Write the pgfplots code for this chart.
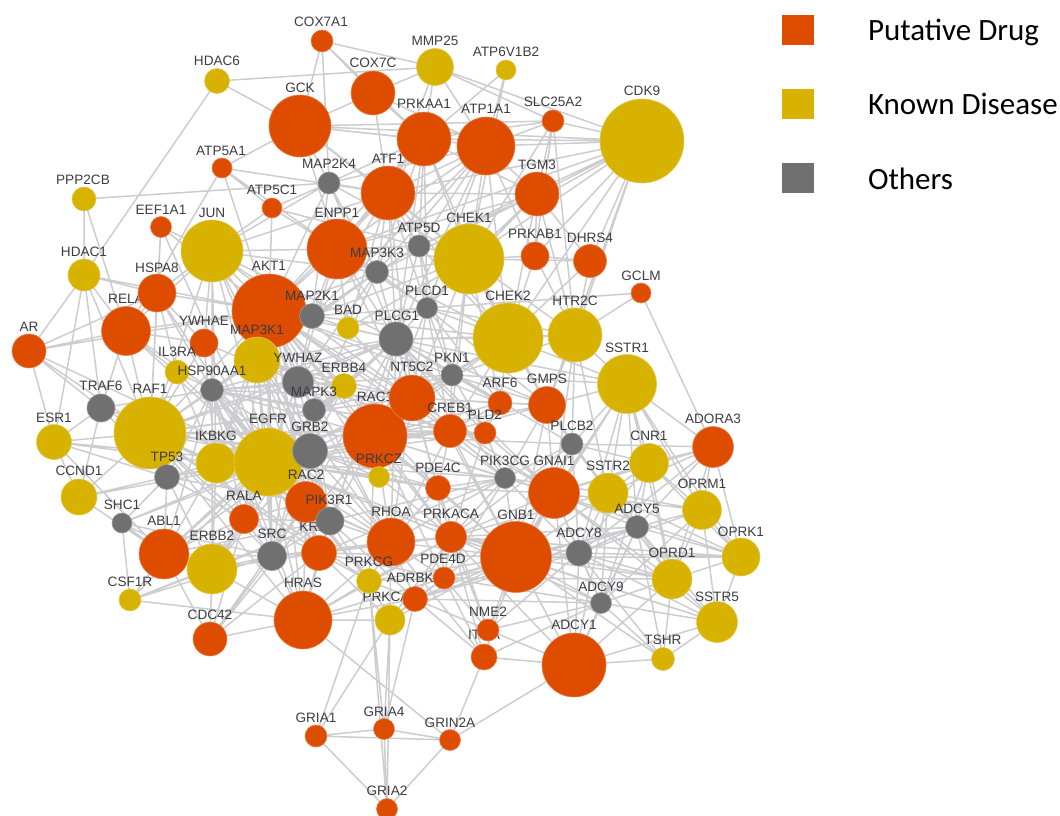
\documentclass[border=0pt]{standalone}
\usepackage{pgfplots}
\pgfplotsset{compat=1.18}
\usepackage{fontspec}
\setmainfont{Liberation Sans}
\newfontfamily\legfont{Carlito}
\definecolor{colO}{RGB}{222,76,0}
\definecolor{colY}{RGB}{216,178,0}
\definecolor{colG}{RGB}{112,112,112}
\definecolor{colE}{RGB}{205,205,208}
\definecolor{colT}{RGB}{60,60,66}
\pgfplotstableread{
x y r
322 41 11
373 93 22
300 126 31
222 168 10
388 193 27
272 208 10
161 227 10.5
337 249 30
157 293 19
269 311 37
553 121 11
424 139 27
486 146 29
537 194 22
535 256 14
590 261 16.5
641 293 10
126 331 24.5
29 351 17
204 343 14
375 436 32
412 398 23
500 403 12
547 405 18.5
450 431 16.5
485 433 11
713 447 20.5
438 488 12.5
554 493 25.5
451 537 15.5
516 557 35.5
574 665 32
484 657 13
488 630 11
444 578 11
415 599 12.5
303 620 29
210 639 17
164 554 25
319 553 17.5
391 542 24
244 519 14.5
316 736 11
384 729 10.5
450 740 10.5
387 809 10.5
}\tabO
\pgfplotstableread{
x y r
217 81 12.5
435 67 18.5
506 70 10
84 199 12
642 141 42
212 251 31
469 259 35
84 275 16
348 328 11
257 360 23
177 372 12
344 386 12.5
150 433 36
54 442 17.5
508 338 35
575 335 27
627 384 29.5
649 463 19.5
608 493 20
702 510 19.5
741 557 19
672 579 20
717 622 20.5
663 659 11.5
369 581 12.5
390 620 15
130 600 11
212 569 25
79 497 18
216 463 20
268 462 34
379 477 10.5
}\tabY
\pgfplotstableread{
x y r
329 183 11
377 272 11.5
419 246 11
312 316 12.5
396 339 17
212 390 11.5
298 382 15.5
101 408 14
314 410 11.5
427 308 10.5
452 375 11
572 444 11
505 478 10.5
637 527 11.5
579 553 13
601 603 10.5
272 556 14.5
330 521 14
122 523 10
167 477 12.5
310 451 17.5
}\tabG
\pgfplotstableread{
x y r
306 502 20.5
}\tabR
\pgfplotstableread{
x y l
126 299 RELA
375 397 RAC1
318 527 KRAS
386 597 PRKCA
414 578 ADRBK1
484 635 ITGA
}\tabHidden
\pgfplotstableread{
x y l
321 22 COX7A1
217 61 HDAC6
373 63 COX7C
300 88 GCK
221 151 ATP5A1
329 164 MAP2K4
388 159 ATF1
272 190 ATP5C1
83 180 PPP2CB
161 210 EEF1A1
212 213 JUN
337 213 ENPP1
377 253 MAP3K3
84 252 HDAC1
157 268 HSPA8
269 266 AKT1
435 41 MMP25
506 52 ATP6V1B2
553 102 SLC25A2
642 91 CDK9
424 104 PRKAA1
486 109 ATP1A1
537 165 TGM3
419 228 ATP5D
469 218 CHEK1
535 234 PRKAB1
590 238 DHRS4
641 276 GCLM
312 296 MAP2K1
348 310 BAD
397 316 PLCG1
29 327 AR
204 321 YWHAE
257 330 MAP3K1
177 352 IL3RA
212 371 HSP90AA1
298 358 YWHAZ
344 368 ERBB4
101 386 TRAF6
150 389 RAF1
314 392 MAPK3
54 418 ESR1
268 419 EGFR
310 427 GRB2
216 436 IKBKG
167 457 TP53
79 471 CCND1
306 475 RAC2
379 459 PRKCZ
329 500 PIK3R1
244 496 RALA
122 505 SHC1
164 521 ABL1
212 536 ERBB2
272 534 SRC
391 512 RHOA
427 291 PLCD1
508 296 CHEK2
575 301 HTR2C
412 367 NT5C2
452 358 PKN1
627 348 SSTR1
500 383 ARF6
547 379 GMPS
450 408 CREB1
485 415 PLD2
572 426 PLCB2
713 419 ADORA3
649 436 CNR1
438 468 PDE4C
505 461 PIK3CG
554 461 GNAI1
608 466 SSTR2
702 484 OPRM1
637 509 ADCY5
451 514 PRKACA
516 515 GNB1
579 533 ADCY8
741 532 OPRK1
672 553 OPRD1
717 597 SSTR5
601 587 ADCY9
663 640 TSHR
574 625 ADCY1
488 612 NME2
443 559 PDE4D
369 562 PRKCG
303 583 HRAS
210 615 CDC42
130 582 CSF1R
316 718 GRIA1
384 712 GRIA4
450 723 GRIN2A
387 791 GRIA2
}\tabL
\begin{document}
\begin{tikzpicture}
\useasboundingbox (0,0) rectangle (1060pt,816pt);
\begin{axis}[
  at={(0pt,0pt)}, anchor=south west,
  scale only axis, width=1060pt, height=816pt,
  xmin=0, xmax=1060, ymin=0, ymax=816, y dir=reverse,
  hide axis, clip mode=individual,
  legend image code/.code={\path[#1,draw=none] (0pt,-14pt) rectangle (32pt,16pt); \path[draw=none,fill=none] (32pt,0pt) -- (86pt,0pt);},
  legend style={at={(axis cs:782,15)}, anchor=north west, draw=none, fill=none,
    inner sep=0pt, outer sep=0pt, row sep=44pt,
    font=\legfont\fontsize{31}{33}\selectfont,
    nodes={inner sep=0pt, text=black}},
  legend cell align=left,
]
\addplot[color=colE, line width=1.5pt, unbounded coords=jump, forget plot] coordinates {
(387,809)(316,736)(384,729)(387,809)(450,740)(384,729)(nan,nan)
(316,736)(450,740)(303,620)(nan,nan)
(316,736)(390,620)(384,729)(369,581)(316,736)(nan,nan)
(390,620)(387,809)(369,581)(nan,nan)
(384,729)(415,599)(nan,nan)(484,657)(450,740)(574,665)(nan,nan)
(84,275)(217,81)(435,67)(322,41)(300,126)(217,81)(nan,nan)
(322,41)(373,93)(300,126)(nan,nan)(322,41)(329,183)(nan,nan)(322,41)(424,139)(nan,nan)
(435,67)(373,93)(nan,nan)(435,67)(424,139)(506,70)(486,146)(435,67)(642,141)(nan,nan)
(435,67)(553,121)(424,139)(nan,nan)(435,67)(388,193)(nan,nan)(506,70)(469,259)(nan,nan)
(84,199)(329,183)(nan,nan)(84,199)(84,275)(nan,nan)(84,199)(126,331)(nan,nan)
(222,168)(300,126)(nan,nan)(222,168)(272,208)(337,249)(222,168)(269,311)(nan,nan)(222,168)(126,331)(nan,nan)(222,168)(388,193)(nan,nan)
(272,208)(329,183)(nan,nan)(272,208)(269,311)(nan,nan)(272,208)(212,251)(388,193)(nan,nan)(272,208)(469,259)(nan,nan)
(161,227)(157,293)(nan,nan)(161,227)(212,251)(nan,nan)(161,227)(269,311)(nan,nan)(161,227)(150,433)(nan,nan)(161,227)(268,462)(nan,nan)
(84,275)(126,331)(29,351)(84,275)(157,293)(126,331)(nan,nan)(84,275)(54,442)(29,351)(101,408)(84,275)(nan,nan)
(84,275)(269,311)(29,351)(157,293)(nan,nan)(84,275)(150,433)(nan,nan)(29,351)(150,433)(54,442)(101,408)(nan,nan)
(29,351)(268,462)(54,442)(167,477)(79,497)(54,442)(216,463)(nan,nan)(54,442)(79,497)(nan,nan)(54,442)(164,554)(nan,nan)
(79,497)(150,433)(nan,nan)(79,497)(268,462)(nan,nan)(79,497)(164,554)(nan,nan)(79,497)(101,408)(nan,nan)
(122,523)(130,600)(164,554)(122,523)(212,569)(130,600)(nan,nan)(122,523)(167,477)(nan,nan)(122,523)(268,462)(310,451)(122,523)(272,556)(nan,nan)
(130,600)(272,556)(nan,nan)(130,600)(268,462)(nan,nan)(130,600)(303,620)(nan,nan)(130,600)(212,569)(nan,nan)(130,600)(330,521)(nan,nan)
(210,639)(212,569)(nan,nan)(210,639)(164,554)(nan,nan)(210,639)(272,556)(210,639)(244,519)(nan,nan)(210,639)(303,620)(nan,nan)(210,639)(319,553)(nan,nan)(210,639)(375,436)(nan,nan)(210,639)(306,502)(nan,nan)
(303,620)(390,620)(nan,nan)(303,620)(212,569)(nan,nan)(303,620)(272,556)(nan,nan)(303,620)(369,581)(nan,nan)(303,620)(415,599)(nan,nan)(303,620)(444,578)(nan,nan)
(641,293)(575,335)(nan,nan)(641,293)(713,447)(nan,nan)(641,293)(427,308)(nan,nan)
(642,141)(424,139)(nan,nan)(642,141)(486,146)(nan,nan)(642,141)(537,194)(nan,nan)(642,141)(537,200)(nan,nan)(642,141)(469,259)(nan,nan)(642,141)(388,193)(nan,nan)(642,141)(337,249)(nan,nan)
(642,141)(535,256)(nan,nan)(642,141)(590,261)(nan,nan)(642,141)(508,338)(nan,nan)(642,141)(575,335)(nan,nan)(642,141)(547,405)(nan,nan)(642,141)(553,121)(nan,nan)(642,141)(300,126)(nan,nan)(642,141)(419,246)(nan,nan)
(553,121)(486,146)(nan,nan)(553,121)(537,194)(nan,nan)(553,121)(469,259)(nan,nan)(553,121)(535,256)(nan,nan)(553,121)(575,335)(nan,nan)(553,121)(300,126)(nan,nan)
(713,447)(627,384)(nan,nan)(713,447)(649,463)(nan,nan)(713,447)(572,444)(nan,nan)(713,447)(608,493)(nan,nan)(713,447)(702,510)(nan,nan)(713,447)(741,557)(nan,nan)(713,447)(672,579)(nan,nan)(713,447)(637,527)(nan,nan)(713,447)(579,553)(nan,nan)(713,447)(554,493)(nan,nan)
(741,557)(702,510)(672,579)(741,557)(717,622)(702,510)(nan,nan)(741,557)(637,527)(nan,nan)(741,557)(579,553)(nan,nan)(741,557)(649,463)(nan,nan)(741,557)(608,493)(nan,nan)(741,557)(554,493)(nan,nan)
(663,659)(717,622)(nan,nan)(663,659)(574,665)(nan,nan)(663,659)(601,603)(nan,nan)(663,659)(637,527)(nan,nan)(663,659)(672,579)(nan,nan)(663,659)(579,553)(nan,nan)(663,659)(516,557)(nan,nan)
(717,622)(672,579)(nan,nan)(717,622)(601,603)(nan,nan)(717,622)(574,665)(nan,nan)(717,622)(637,527)(nan,nan)(717,622)(554,493)(nan,nan)(717,622)(516,557)(nan,nan)(717,622)(579,553)(nan,nan)(717,622)(608,493)(nan,nan)
(574,665)(601,603)(nan,nan)(574,665)(579,553)(nan,nan)(574,665)(637,527)(nan,nan)(574,665)(516,557)(nan,nan)(574,665)(484,657)(nan,nan)(574,665)(488,630)(nan,nan)(574,665)(554,493)(nan,nan)(574,665)(672,579)(nan,nan)(574,665)(608,493)(nan,nan)(574,665)(451,537)(nan,nan)
(627,384)(649,463)(nan,nan)(627,384)(608,493)(nan,nan)(627,384)(554,493)(nan,nan)(627,384)(572,444)(nan,nan)(627,384)(702,510)(nan,nan)(627,384)(637,527)(nan,nan)(627,384)(672,579)(nan,nan)(627,384)(741,557)(nan,nan)(627,384)(547,405)(nan,nan)(627,384)(575,335)(nan,nan)(627,384)(516,557)(nan,nan)(627,384)(579,553)(nan,nan)
(649,463)(608,493)(nan,nan)(649,463)(572,444)(nan,nan)(649,463)(702,510)(nan,nan)(649,463)(637,527)(nan,nan)(649,463)(554,493)(nan,nan)(649,463)(672,579)(nan,nan)(649,463)(579,553)(nan,nan)(649,463)(601,603)(nan,nan)
(702,510)(608,493)(nan,nan)(702,510)(637,527)(nan,nan)(702,510)(672,579)(nan,nan)(702,510)(554,493)(nan,nan)(702,510)(579,553)(nan,nan)(702,510)(601,603)(nan,nan)
(672,579)(608,493)(637,527)(672,579)(601,603)(608,493)(579,553)(672,579)(554,493)(nan,nan)(672,579)(516,557)(nan,nan)
(516,557)(554,493)(579,553)(516,557)(601,603)(554,493)(637,527)(516,557)(608,493)(451,537)(516,557)(444,578)(554,493)(451,537)(444,578)(488,630)(516,557)(484,657)(nan,nan)
(516,557)(505,478)(554,493)(572,444)(516,557)(547,405)(554,493)(438,488)(516,557)(415,599)(451,537)(505,478)(438,488)(444,578)(nan,nan)
(516,557)(391,542)(nan,nan)(516,557)(369,581)(nan,nan)(516,557)(390,620)(nan,nan)(516,557)(303,620)(nan,nan)(516,557)(319,553)(nan,nan)(516,557)(375,436)(nan,nan)(516,557)(450,431)(nan,nan)
(469,259)(486,146)(424,139)(537,194)(486,146)(388,193)(424,139)(373,93)(486,146)(300,126)(424,139)(nan,nan)
(373,93)(388,193)(300,126)(337,249)(388,193)(329,183)(300,126)(469,259)(388,193)(537,194)(469,259)(424,139)(337,249)(486,146)(329,183)(424,139)(nan,nan)
(419,246)(469,259)(377,272)(419,246)(388,193)(377,272)(337,249)(419,246)(486,146)(377,272)(424,139)(419,246)(537,194)(377,272)(469,259)(329,183)(377,272)(nan,nan)
(535,256)(469,259)(590,261)(535,256)(537,194)(590,261)(nan,nan)(535,256)(508,338)(nan,nan)(535,256)(575,335)(590,261)(508,338)(537,194)(575,335)(nan,nan)(535,256)(486,146)(nan,nan)(590,261)(469,259)(nan,nan)
(469,259)(508,338)(427,308)(469,259)(396,339)(508,338)(419,246)(427,308)(377,272)(396,339)(419,246)(nan,nan)(508,338)(575,335)(627,384)(508,338)(547,405)(nan,nan)
(388,193)(427,308)(337,249)(396,339)(388,193)(312,316)(329,183)(396,339)(486,146)(427,308)(424,139)(396,339)(nan,nan)(486,146)(508,338)(nan,nan)(424,139)(508,338)(nan,nan)
(337,249)(269,311)(377,272)(312,316)(337,249)(212,251)(269,311)(329,183)(212,251)(nan,nan)(212,251)(157,293)(269,311)(126,331)(212,251)(204,343)(nan,nan)(212,251)(150,433)(nan,nan)(212,251)(268,462)(nan,nan)(212,251)(312,316)(nan,nan)
(157,293)(204,343)(126,331)(150,433)(157,293)(177,372)(126,331)(212,390)(157,293)(268,462)(126,331)(268,462)(204,343)(150,433)(269,311)(268,462)(212,390)(nan,nan)
(101,408)(150,433)(nan,nan)(101,408)(126,331)(nan,nan)(101,408)(212,390)(nan,nan)(101,408)(268,462)(nan,nan)(101,408)(167,477)(nan,nan)
(150,433)(212,390)(177,372)(268,462)(257,360)(150,433)(298,382)(204,343)(268,462)(298,382)(212,390)(257,360)(310,451)(150,433)(314,410)(212,390)(310,451)(nan,nan)
(269,311)(298,382)(312,316)(257,360)(344,386)(269,311)(314,410)(298,382)(344,386)(310,451)(269,311)(375,436)(257,360)(nan,nan)(269,311)(412,398)(nan,nan)(269,311)(396,339)(348,328)(312,316)(nan,nan)
(150,433)(216,463)(167,477)(150,433)(244,519)(216,463)(268,462)(167,477)(310,451)(216,463)(306,502)(167,477)(244,519)(268,462)(330,521)(216,463)(nan,nan)
(164,554)(167,477)(212,569)(216,463)(164,554)(268,462)(212,569)(310,451)(164,554)(244,519)(212,569)(272,556)(268,462)(319,553)(212,569)(330,521)(164,554)(272,556)(310,451)(nan,nan)
(272,556)(244,519)(319,553)(272,556)(330,521)(244,519)(306,502)(272,556)(391,542)(319,553)(330,521)(391,542)(306,502)(319,553)(303,620)(330,521)(nan,nan)
(391,542)(303,620)(306,502)(369,581)(391,542)(390,620)(319,553)(369,581)(330,521)(415,599)(391,542)(444,578)(369,581)(451,537)(391,542)(438,488)(nan,nan)
(369,581)(390,620)(415,599)(369,581)(444,578)(390,620)(451,537)(415,599)(444,578)(nan,nan)(319,553)(444,578)(nan,nan)(319,553)(451,537)(nan,nan)(303,620)(451,537)(nan,nan)
(310,451)(375,436)(268,462)(412,398)(310,451)(379,477)(375,436)(330,521)(310,451)(391,542)(375,436)(450,431)(310,451)(438,488)(375,436)(451,537)(379,477)(412,398)(nan,nan)
(375,436)(485,433)(nan,nan)(375,436)(500,403)(nan,nan)(375,436)(505,478)(nan,nan)(375,436)(547,405)(nan,nan)(375,436)(554,493)(nan,nan)(375,436)(572,444)(nan,nan)(375,436)(369,581)(nan,nan)(375,436)(444,578)(nan,nan)
(412,398)(450,431)(438,488)(375,436)(452,375)(412,398)(505,478)(450,431)(547,405)(412,398)(554,493)(450,431)(500,403)(412,398)(391,542)(450,431)(nan,nan)
(452,375)(396,339)(412,398)(427,308)(452,375)(508,338)(412,398)(396,339)(344,386)(412,398)(348,328)(396,339)(314,410)(452,375)(500,403)(396,339)(375,436)(nan,nan)
(452,375)(450,431)(nan,nan)(452,375)(485,433)(nan,nan)(452,375)(547,405)(nan,nan)(452,375)(627,384)(nan,nan)(396,339)(485,433)(nan,nan)(396,339)(547,405)(nan,nan)(396,339)(554,493)(nan,nan)
(344,386)(310,451)(nan,nan)(344,386)(314,410)(nan,nan)(344,386)(268,462)(nan,nan)(344,386)(164,554)(nan,nan)(344,386)(212,569)(nan,nan)(298,382)(391,542)(nan,nan)(298,382)(396,339)(nan,nan)(314,410)(306,502)(nan,nan)(314,410)(330,521)(nan,nan)(314,410)(272,556)(nan,nan)
(212,390)(268,462)(nan,nan)(212,390)(412,398)(nan,nan)(212,390)(375,436)(nan,nan)(212,390)(396,339)(nan,nan)(212,390)(452,375)(nan,nan)(212,390)(450,431)(nan,nan)(257,360)(375,436)(nan,nan)(257,360)(396,339)(nan,nan)(257,360)(330,521)(nan,nan)(257,360)(216,463)(nan,nan)(204,343)(298,382)(nan,nan)(204,343)(216,463)(nan,nan)(177,372)(150,433)(nan,nan)(177,372)(216,463)(nan,nan)
(500,403)(547,405)(nan,nan)(500,403)(508,338)(nan,nan)(500,403)(485,433)(450,431)(nan,nan)(485,433)(505,478)(nan,nan)(485,433)(554,493)(nan,nan)(485,433)(451,537)(nan,nan)(547,405)(572,444)(nan,nan)(547,405)(608,493)(nan,nan)(547,405)(505,478)(nan,nan)(572,444)(505,478)(nan,nan)(572,444)(608,493)(nan,nan)(572,444)(451,537)(nan,nan)(572,444)(579,553)(nan,nan)(572,444)(637,527)(nan,nan)
(505,478)(438,488)(nan,nan)(505,478)(579,553)(nan,nan)(505,478)(608,493)(nan,nan)(505,478)(391,542)(nan,nan)(505,478)(319,553)(nan,nan)(505,478)(444,578)(nan,nan)(505,478)(375,436)(nan,nan)(505,478)(330,521)(nan,nan)
(575,335)(547,405)(nan,nan)(575,335)(554,493)(nan,nan)(575,335)(572,444)(nan,nan)(575,335)(608,493)(nan,nan)(575,335)(427,308)(nan,nan)(575,335)(452,375)(nan,nan)(575,335)(396,339)(nan,nan)(575,335)(537,194)(nan,nan)
(508,338)(412,398)(nan,nan)(508,338)(450,431)(nan,nan)(508,338)(500,403)(nan,nan)(508,338)(572,444)(nan,nan)(508,338)(396,339)(nan,nan)(508,338)(452,375)(nan,nan)(508,338)(375,436)(nan,nan)(508,338)(312,316)(nan,nan)
(488,630)(444,578)(nan,nan)(488,630)(451,537)(nan,nan)(488,630)(415,599)(nan,nan)(488,630)(554,493)(nan,nan)(488,630)(438,488)(nan,nan)(484,657)(444,578)(nan,nan)(484,657)(415,599)(nan,nan)(484,657)(451,537)(nan,nan)(484,657)(391,542)(nan,nan)(484,657)(516,557)(nan,nan)
(212,251)(396,339)(nan,nan)(212,251)(412,398)(nan,nan)(212,251)(298,382)(nan,nan)(212,251)(212,390)(nan,nan)(212,251)(257,360)(nan,nan)(212,251)(310,451)(nan,nan)(212,251)(216,463)(nan,nan)(212,251)(337,249)(nan,nan)
(150,433)(375,436)(nan,nan)(150,433)(412,398)(nan,nan)(150,433)(396,339)(nan,nan)(150,433)(450,431)(nan,nan)(150,433)(391,542)(nan,nan)(150,433)(319,553)(nan,nan)(150,433)(303,620)(nan,nan)(150,433)(369,581)(nan,nan)(150,433)(505,478)(nan,nan)(150,433)(272,556)(nan,nan)(150,433)(306,502)(nan,nan)(150,433)(330,521)(nan,nan)(150,433)(438,488)(nan,nan)
(268,462)(450,431)(nan,nan)(268,462)(438,488)(nan,nan)(268,462)(391,542)(nan,nan)(268,462)(451,537)(nan,nan)(268,462)(505,478)(nan,nan)(268,462)(303,620)(nan,nan)(268,462)(369,581)(nan,nan)(268,462)(516,557)(nan,nan)(268,462)(396,339)(nan,nan)(268,462)(452,375)(nan,nan)(268,462)(485,433)(nan,nan)(268,462)(379,477)(nan,nan)(268,462)(272,556)(nan,nan)
(269,311)(450,431)(nan,nan)(269,311)(438,488)(nan,nan)(269,311)(391,542)(nan,nan)(269,311)(319,553)(nan,nan)(269,311)(451,537)(nan,nan)(269,311)(505,478)(nan,nan)(269,311)(452,375)(nan,nan)(269,311)(500,403)(nan,nan)(269,311)(272,556)(nan,nan)(269,311)(330,521)(nan,nan)(269,311)(306,502)(nan,nan)(269,311)(216,463)(nan,nan)(269,311)(303,620)(nan,nan)(269,311)(379,477)(nan,nan)
(212,390)(306,502)(nan,nan)(212,390)(330,521)(nan,nan)(212,390)(272,556)(nan,nan)(212,390)(319,553)(nan,nan)(212,390)(244,519)(nan,nan)(212,390)(391,542)(nan,nan)(212,390)(303,620)(nan,nan)(212,390)(167,477)(nan,nan)(212,390)(164,554)(nan,nan)(212,390)(212,569)(nan,nan)
(257,360)(268,462)(nan,nan)(257,360)(412,398)(nan,nan)(257,360)(450,431)(nan,nan)(257,360)(391,542)(nan,nan)(257,360)(319,553)(nan,nan)(257,360)(272,556)(nan,nan)(257,360)(244,519)(nan,nan)(298,382)(244,519)(nan,nan)(298,382)(330,521)(nan,nan)(298,382)(272,556)(nan,nan)(298,382)(450,431)(nan,nan)(298,382)(438,488)(nan,nan)
(396,339)(451,537)(nan,nan)(396,339)(438,488)(nan,nan)(396,339)(391,542)(nan,nan)(396,339)(505,478)(nan,nan)(396,339)(330,521)(nan,nan)(396,339)(319,553)(nan,nan)(396,339)(306,502)(nan,nan)(396,339)(516,557)(nan,nan)(396,339)(572,444)(nan,nan)(396,339)(500,403)(nan,nan)(396,339)(627,384)(nan,nan)
(427,308)(412,398)(nan,nan)(427,308)(375,436)(nan,nan)(427,308)(450,431)(nan,nan)(427,308)(547,405)(nan,nan)(427,308)(500,403)(nan,nan)(427,308)(537,194)(nan,nan)(427,308)(312,316)(nan,nan)(427,308)(348,328)(nan,nan)(377,272)(412,398)(nan,nan)(377,272)(298,382)(nan,nan)(377,272)(314,410)(nan,nan)(377,272)(257,360)(nan,nan)(377,272)(212,390)(nan,nan)(377,272)(212,251)(nan,nan)(377,272)(150,433)(nan,nan)
(337,249)(396,339)(nan,nan)(337,249)(298,382)(nan,nan)(337,249)(348,328)(nan,nan)(337,249)(412,398)(nan,nan)(337,249)(469,259)(nan,nan)(337,249)(427,308)(nan,nan)(337,249)(508,338)(nan,nan)(337,249)(537,194)(nan,nan)(388,193)(269,311)(nan,nan)(388,193)(508,338)(nan,nan)(388,193)(348,328)(nan,nan)(388,193)(412,398)(nan,nan)(424,139)(427,308)(nan,nan)(424,139)(377,272)(nan,nan)(424,139)(269,311)(nan,nan)
(486,146)(312,316)(nan,nan)(486,146)(396,339)(nan,nan)(469,259)(412,398)(nan,nan)(469,259)(452,375)(nan,nan)(469,259)(450,431)(nan,nan)(469,259)(312,316)(nan,nan)(469,259)(348,328)(nan,nan)(469,259)(547,405)(nan,nan)(469,259)(500,403)(nan,nan)(469,259)(575,335)(nan,nan)(469,259)(537,194)(nan,nan)(419,246)(396,339)(nan,nan)(419,246)(508,338)(nan,nan)(419,246)(452,375)(nan,nan)
(579,553)(451,537)(nan,nan)(579,553)(444,578)(nan,nan)(579,553)(637,527)(nan,nan)(579,553)(601,603)(nan,nan)(637,527)(451,537)(nan,nan)(637,527)(601,603)(nan,nan)(637,527)(554,493)(nan,nan)(637,527)(608,493)(nan,nan)(601,603)(451,537)(nan,nan)(601,603)(444,578)(nan,nan)(601,603)(415,599)(nan,nan)(601,603)(488,630)(nan,nan)(601,603)(484,657)(nan,nan)(579,553)(415,599)(nan,nan)(579,553)(488,630)(nan,nan)(637,527)(444,578)(nan,nan)(637,527)(415,599)(nan,nan)(672,579)(451,537)(nan,nan)(672,579)(444,578)(nan,nan)(717,622)(451,537)(nan,nan)(741,557)(516,557)(nan,nan)(741,557)(451,537)(nan,nan)
};
\pgfplotsset{netlabel/.style={forget plot, only marks, mark=*, mark size=0pt, draw=none, fill=none,
  nodes near coords, point meta=explicit symbolic,
  every node near coord/.append style={anchor=center, inner sep=0pt, text=colT,
    font=\fontsize{13.6}{15}\selectfont}}}
\addplot[netlabel] table[x=x,y=y,meta=l] {\tabHidden};
\pgfplotsset{netnode/.style={forget plot, scatter, only marks, mark=*,
  mark options={line width=0.6pt},
  visualization depends on={\thisrow{r} \as \rad},
  scatter/@pre marker code/.code={\scope[mark size=\rad pt, draw=#1!70!white, fill=#1]},
  scatter/@post marker code/.code={\endscope}}}
\addplot[netnode=colO] table[x=x,y=y] {\tabO};
\addplot[netnode=colY] table[x=x,y=y] {\tabY};
\addplot[netnode=colO] table[x=x,y=y] {\tabR};
\addplot[netnode=colG] table[x=x,y=y] {\tabG};
\addplot[netlabel] table[x=x,y=y,meta=l] {\tabL};
\addlegendimage{fill=colO}\addlegendentry{Putative Drug}
\addlegendimage{fill=colY}\addlegendentry{Known Disease}
\addlegendimage{fill=colG}\addlegendentry{Others}
\end{axis}
\end{tikzpicture}
\end{document}
